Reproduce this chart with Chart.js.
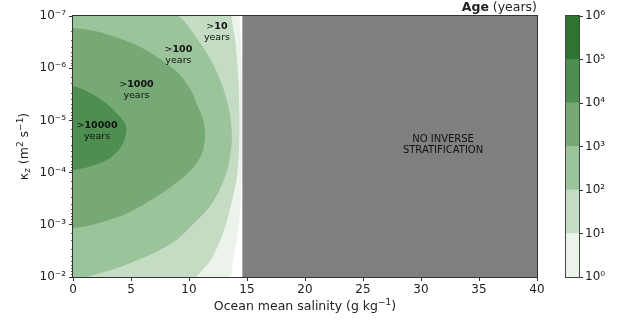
<!DOCTYPE html>
<html>
<head>
<meta charset="utf-8">
<script src="https://cdn.jsdelivr.net/npm/chart.js@4.4.0/dist/chart.umd.min.js"></script>
<style>
  html, body { margin: 0; padding: 0; background: #fff; }
  #wrap { position: relative; width: 620px; height: 321px; }
  #ageChart { position: absolute; left: 0; top: 0; }
  #barChart { position: absolute; left: 540px; top: 0; }
</style>
</head>
<body>
<div id="wrap">
  <canvas id="ageChart" width="620" height="321"></canvas>
  <canvas id="barChart" width="80" height="321"></canvas>
</div>
<script>
'use strict';

// colour levels of the age field (years)
const ageLevels = [1, 10, 100, 1000, 10000, 100000, 1000000];
const levelColors = ['#ebf3ea', '#c4dcc3', '#9cc49b', '#76a975', '#4e8e50', '#2e7431'];

// axes
const salinityRange = [0, 40];
const kzRange = [1e-7, 1e-2];

// salinity above which there is no inverse stratification
const criticalSalinity = 14.6;

// contour boundaries: salinity (g/kg) and log10(kz)
const gt1Salinity = [0, 14.3, 14.36, 14.48, 14.56, 14.57, 14.55, 14.45, 14.3, 14.1, 13.8, 13.4, 0];
const gt1LogKz    = [-7, -7, -6.85, -6.4, -5.7, -5.0, -4.2, -3.45, -3.0, -2.69, -2.35, -2, -2];

const gt10Salinity = [0, 13.6, 13.7, 14.0, 14.25, 14.35, 14.3, 14.15, 13.95, 13.7, 13.35, 12.9, 12.4, 11.8, 11.1, 10.5, 0];
const gt10LogKz    = [-7, -7, -6.9, -6.5, -5.8, -5.0, -4.4, -3.95, -3.7, -3.45, -3.15, -2.82, -2.55, -2.3, -2.12, -2, -2];

const gt100Salinity = [0, 9.0, 9.5, 10.6, 11.9, 12.9, 13.5, 13.7, 13.6, 13.3, 12.8, 12.1, 11.3, 10.3, 9.4, 8.4, 6.8, 5.5, 4.2, 2.6, 1.2, 0];
const gt100LogKz    = [-7, -7, -6.92, -6.6, -6.15, -5.65, -5.15, -4.7, -4.4, -4.05, -3.75, -3.45, -3.22, -3.0, -2.8, -2.63, -2.44, -2.32, -2.2, -2.09, -2, -2];

const gt1000Salinity = [0, 1.2, 2.5, 3.9, 5.2, 6.3, 7.2, 8.0, 8.6, 9.3, 9.8, 10.3, 10.6, 11.0, 11.25, 11.4, 11.35, 11.2, 10.85, 10.4, 9.85, 9.2, 8.4, 7.5, 6.0, 4.7, 3.5, 2.3, 1.1, 0];
const gt1000LogKz    = [-6.77, -6.74, -6.68, -6.58, -6.47, -6.35, -6.22, -6.1, -6.0, -5.85, -5.7, -5.52, -5.35, -5.15, -4.97, -4.78, -4.6, -4.42, -4.25, -4.1, -3.98, -3.86, -3.72, -3.58, -3.38, -3.22, -3.12, -3.04, -2.97, -2.93];

const gt10000Salinity = [0, 0.8, 1.5, 2.1, 2.6, 3.1, 3.6, 4.0, 4.3, 4.5, 4.6, 4.55, 4.4, 4.15, 3.9, 3.55, 3.2, 2.6, 2.0, 1.0, 0];
const gt10000LogKz    = [-5.66, -5.6, -5.52, -5.45, -5.37, -5.28, -5.17, -5.08, -5.0, -4.93, -4.84, -4.72, -4.6, -4.5, -4.42, -4.35, -4.28, -4.21, -4.16, -4.09, -4.05];

const FONT = 'DejaVu Sans';
const TEXT = '#222';

const SUP = {'-': '⁻', '0': '⁰', '1': '¹', '2': '²', '3': '³', '4': '⁴', '5': '⁵', '6': '⁶', '7': '⁷', '8': '⁸', '9': '⁹'};
const sup = n => String(n).split('').map(c => SUP[c]).join('');
const decadeLabel = v => {
    const e = Math.log10(v);
    const r = Math.round(e);
    return Math.abs(e - r) < 1e-6 ? '10' + sup(r) : null;
};

const toPoints = (sal, logKz) => sal.map((s, i) => ({x: s, y: Math.pow(10, logKz[i])}));

// darkest first: dataset 0 is drawn on top
const contours = [
    {sal: gt10000Salinity, lk: gt10000LogKz, color: levelColors[4]},
    {sal: gt1000Salinity, lk: gt1000LogKz, color: levelColors[3]},
    {sal: gt100Salinity, lk: gt100LogKz, color: levelColors[2]},
    {sal: gt10Salinity, lk: gt10LogKz, color: levelColors[1]},
    {sal: gt1Salinity, lk: gt1LogKz, color: levelColors[0]}
];

const datasets = contours.map(c => ({
    data: toPoints(c.sal, c.lk),
    showLine: true,
    fill: 'shape',
    backgroundColor: c.color,
    borderWidth: 0,
    pointRadius: 0,
    tension: 0.3
}));

datasets.push({
    data: toPoints([criticalSalinity, salinityRange[1], salinityRange[1], criticalSalinity], [-7, -7, -2, -2]),
    showLine: true,
    fill: 'shape',
    backgroundColor: '#808080',
    borderWidth: 0,
    pointRadius: 0,
    tension: 0
});

// rich text: segments drawn side by side, centred on cx
function drawRich(ctx, segs, cx, cy) {
    let total = 0;
    segs.forEach(s => { ctx.font = s.f; s.w = ctx.measureText(s.t).width; total += s.w; });
    let x = cx - total / 2;
    ctx.textAlign = 'left';
    ctx.textBaseline = 'middle';
    segs.forEach(s => {
        ctx.font = s.f;
        ctx.fillText(s.t, x, cy + (s.dy || 0));
        x += s.w;
    });
}

// region labels, in data units (salinity, log10 kz)
const regionLabels = [
    {num: '10000', s: 2.07, lk: -4.80},
    {num: '1000', s: 5.47, lk: -5.58},
    {num: '100', s: 9.09, lk: -6.26},
    {num: '10', s: 12.41, lk: -6.69}
];

const decorations = {
    id: 'decorations',
    afterDraw(chart) {
        const ctx = chart.ctx;
        const a = chart.chartArea;
        const xs = chart.scales.x, ys = chart.scales.y;
        ctx.save();
        ctx.fillStyle = '#111';

        regionLabels.forEach(l => {
            const px = xs.getPixelForValue(l.s);
            const py = ys.getPixelForValue(Math.pow(10, l.lk));
            drawRich(ctx, [
                {t: '>', f: '9.5px ' + FONT},
                {t: l.num, f: 'bold 9.5px ' + FONT}
            ], px, py - 5.5);
            drawRich(ctx, [{t: 'years', f: '9.5px ' + FONT}], px, py + 5.5);
        });

        const nx = xs.getPixelForValue(31.9);
        const ny = ys.getPixelForValue(Math.pow(10, -4.54));
        drawRich(ctx, [{t: 'NO INVERSE', f: '10px ' + FONT}], nx, ny - 5.5);
        drawRich(ctx, [{t: 'STRATIFICATION', f: '10px ' + FONT}], nx, ny + 5.5);

        // frame
        ctx.strokeStyle = '#333';
        ctx.lineWidth = 1;
        ctx.strokeRect(Math.round(a.left) - 0.5, Math.round(a.top) - 0.5,
            Math.round(a.right - a.left) + 1, Math.round(a.bottom - a.top) + 1);

        ctx.fillStyle = TEXT;
        // title, right aligned
        ctx.textBaseline = 'middle';
        ctx.textAlign = 'right';
        ctx.font = '12.5px ' + FONT;
        ctx.fillText('(years)', a.right, 7.5);
        const wy = ctx.measureText(' (years)').width;
        ctx.font = 'bold 12.5px ' + FONT;
        ctx.fillText('Age', a.right - wy, 7.5);

        // x title
        drawRich(ctx, [
            {t: 'Ocean mean salinity (g kg', f: '12.5px ' + FONT},
            {t: '−1', f: '9px ' + FONT, dy: -4},
            {t: ')', f: '12.5px ' + FONT}
        ], (a.left + a.right) / 2, 307);

        // y title
        ctx.translate(25, (a.top + a.bottom) / 2);
        ctx.rotate(-Math.PI / 2);
        drawRich(ctx, [
            {t: 'κ', f: '12.5px ' + FONT},
            {t: 'z', f: '9px ' + FONT, dy: 3},
            {t: ' (m', f: '12.5px ' + FONT},
            {t: '2', f: '9px ' + FONT, dy: -4},
            {t: ' s', f: '12.5px ' + FONT},
            {t: '−1', f: '9px ' + FONT, dy: -4},
            {t: ')', f: '12.5px ' + FONT}
        ], 0, 0);
        ctx.restore();
    }
};

Chart.defaults.font.family = FONT;
Chart.defaults.color = TEXT;

new Chart(document.getElementById('ageChart'), {
    type: 'scatter',
    data: {datasets: datasets},
    options: {
        responsive: false,
        animation: false,
        layout: {padding: {left: 0, top: 16, right: 83, bottom: 0}},
        plugins: {legend: {display: false}, tooltip: {enabled: false}},
        scales: {
            x: {
                type: 'linear',
                min: salinityRange[0],
                max: salinityRange[1],
                afterFit: s => { s.height = 44; },
                border: {display: false},
                grid: {drawOnChartArea: false, tickLength: 4, tickColor: '#333'},
                ticks: {stepSize: 5, padding: 2, font: {size: 12}, color: TEXT}
            },
            y: {
                type: 'logarithmic',
                reverse: true,
                min: kzRange[0],
                max: kzRange[1],
                afterFit: s => { s.width = 73; },
                border: {display: false},
                grid: {
                    drawOnChartArea: false,
                    tickLength: 4,
                    tickColor: '#333',
                    tickWidth: c => decadeLabel(c.tick.value) ? 1 : 0.8,
                    tickBorderDash: c => decadeLabel(c.tick.value) ? [] : [0, 2, 2, 10]
                },
                ticks: {
                    autoSkip: false,
                    padding: 3,
                    font: {size: 12},
                    color: TEXT,
                    callback: v => decadeLabel(v) || ''
                }
            }
        }
    },
    plugins: [decorations]
});

// colour bar
const barSets = levelColors.map((c, i) => ({
    data: [[ageLevels[i], ageLevels[i + 1]]],
    backgroundColor: c,
    borderWidth: 0,
    barPercentage: 1,
    categoryPercentage: 1,
    grouped: false
}));

const barFrame = {
    id: 'barFrame',
    afterDraw(chart) {
        const ctx = chart.ctx;
        const a = chart.chartArea;
        ctx.save();
        ctx.strokeStyle = '#444';
        ctx.lineWidth = 1;
        ctx.strokeRect(Math.round(a.left) - 0.5, Math.round(a.top) - 0.5,
            Math.round(a.right - a.left) + 1, Math.round(a.bottom - a.top) + 1);
        ctx.restore();
    }
};

new Chart(document.getElementById('barChart'), {
    type: 'bar',
    data: {labels: [''], datasets: barSets},
    options: {
        responsive: false,
        animation: false,
        layout: {padding: {left: 26, top: 16, right: 0, bottom: 44}},
        plugins: {legend: {display: false}, tooltip: {enabled: false}},
        scales: {
            x: {display: false},
            y: {
                type: 'logarithmic',
                position: 'right',
                min: ageLevels[0],
                max: ageLevels[ageLevels.length - 1],
                afterFit: s => { s.width = 41; },
                border: {display: false},
                grid: {drawOnChartArea: false, tickLength: 4, tickColor: '#333'},
                ticks: {autoSkip: false, padding: 2, font: {size: 12}, color: TEXT, callback: decadeLabel}
            }
        }
    },
    plugins: [barFrame]
});
</script>
</body>
</html>
